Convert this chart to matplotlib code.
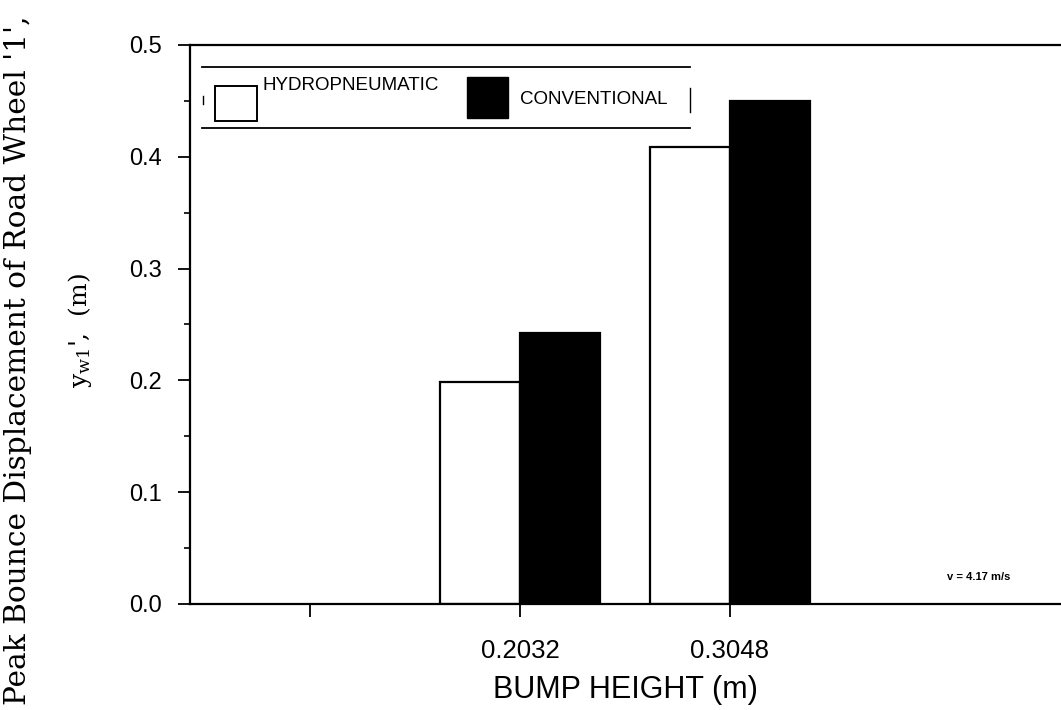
import matplotlib
matplotlib.use("Agg")
import matplotlib.pyplot as plt
from matplotlib.patches import Rectangle
from matplotlib.ticker import MultipleLocator

# Peak bounce displacement of road wheel 1 for two suspension types
tick_labels = ["", "0.2032", "0.3048"]          # bump height (m); first tick unlabeled
bump_positions = [1, 2]                          # category slots that carry bars
hydropneumatic = [0.199, 0.409]                  # y_w1 (m)
conventional = [0.242, 0.450]                    # y_w1 (m)
series_names = ["HYDROPNEUMATIC", "CONVENTIONAL"]

plt.rcParams["mathtext.fontset"] = "custom"
plt.rcParams["mathtext.rm"] = "DejaVu Serif"
plt.rcParams["mathtext.it"] = "DejaVu Serif"

W, H = 1061, 710
fig = plt.figure(figsize=(W / 100, H / 100), dpi=100)
fig.patch.set_facecolor("white")

ax_left, ax_right, ax_top, ax_bottom = 190, 1061, 45, 604
ax = fig.add_axes([ax_left / W, 1 - ax_bottom / H,
                   (ax_right - ax_left) / W, (ax_bottom - ax_top) / H])

width = 0.38
ax.bar([p - width / 2 for p in bump_positions], hydropneumatic, width=width,
       facecolor="white", edgecolor="black", linewidth=1.6, zorder=2)
ax.bar([p + width / 2 for p in bump_positions], conventional, width=width,
       facecolor="black", edgecolor="black", linewidth=1.6, zorder=2)

ax.set_xlim(-0.571, 3.576)
ax.set_ylim(0, 0.5)
ax.set_xticks(range(len(tick_labels)))
ax.set_xticklabels(tick_labels, fontsize=18.5, family="Liberation Sans")
ax.yaxis.set_major_locator(MultipleLocator(0.1))
ax.yaxis.set_minor_locator(MultipleLocator(0.05))
ax.set_yticklabels([f"{v:.1f}" for v in ax.get_yticks()],
                   fontsize=17, family="Liberation Sans")

ax.tick_params(axis="x", which="major", direction="out", length=9.5,
               width=1.3, pad=16)
ax.tick_params(axis="y", which="major", direction="out", length=9,
               width=1.3, pad=11)
ax.tick_params(axis="y", which="minor", direction="out", length=4.5, width=1.2)
ax.tick_params(axis="x", which="minor", length=0)

for side in ("left", "top", "bottom"):
    ax.spines[side].set_linewidth(1.6)
ax.spines["right"].set_visible(False)

# axis titles
fig.text(625 / W, 1 - 690 / H, "BUMP HEIGHT (m)", ha="center", va="center",
         fontsize=22, family="Liberation Sans")
fig.text(18 / W, 1 - 360 / H, "Peak Bounce Displacement of Road Wheel '1',",
         rotation=90, ha="center", va="center", fontsize=21.3,
         family="DejaVu Serif")
fig.text(80 / W, 1 - 330 / H, r"$\mathrm{y}_{\mathrm{w1}}$',  (m)",
         rotation=90, ha="center", va="center", fontsize=18,
         family="DejaVu Serif")

# legend panel drawn in pixel-derived figure coordinates
def fx(x):
    return x / W

def fy(y):
    return 1 - y / H

fig.add_artist(plt.Line2D([fx(202), fx(690)], [fy(67), fy(67)],
                          color="black", lw=1.3))
fig.add_artist(plt.Line2D([fx(202), fx(690)], [fy(128), fy(128)],
                          color="black", lw=1.3))
fig.add_artist(plt.Line2D([fx(690), fx(690)], [fy(88), fy(112)],
                          color="black", lw=1.0))
fig.add_artist(plt.Line2D([fx(203), fx(203)], [fy(96), fy(104)],
                          color="black", lw=1.0))
fig.add_artist(Rectangle((fx(215), fy(121)), fx(257) - fx(215), fy(86) - fy(121),
                         transform=fig.transFigure, facecolor="white",
                         edgecolor="black", lw=1.4))
fig.add_artist(Rectangle((fx(467), fy(118)), fx(508) - fx(467), fy(77) - fy(118),
                         transform=fig.transFigure, facecolor="black",
                         edgecolor="black", lw=1.0))
fig.text(fx(263), fy(85), series_names[0], ha="left", va="center",
         fontsize=13.5, family="Liberation Sans")
fig.text(fx(520), fy(99), series_names[1], ha="left", va="center",
         fontsize=13.5, family="Liberation Sans")

# test speed note
ax.text(0.905, 0.048, "v = 4.17 m/s", transform=ax.transAxes, ha="center",
        va="center", fontsize=8, family="Liberation Sans", fontweight="bold")

fig.savefig("out.png", dpi=100, facecolor="white")
